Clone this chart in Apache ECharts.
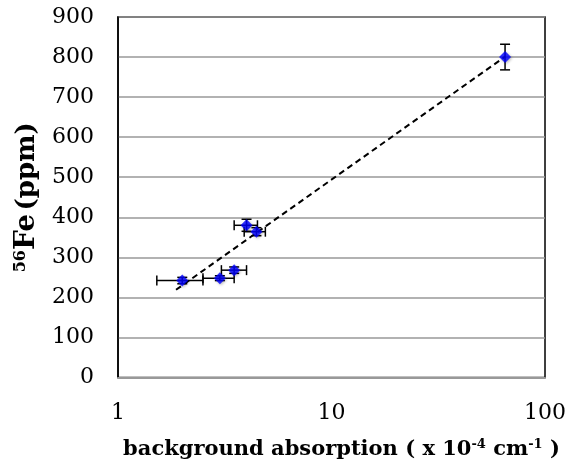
<!DOCTYPE html>
<html><head><meta charset="utf-8">
<script src="https://cdn.jsdelivr.net/npm/echarts@6/dist/echarts.min.js"></script>
<style>html,body{margin:0;padding:0;background:#fff}#c{width:569px;height:465px}</style>
</head><body><div id="c"></div>
<script>
const xVals = [2.0, 3.0, 3.5, 4.0, 4.45, 65];
const yVals = [242, 248, 268, 380, 364, 800];
const xLow = [1.52, 2.5, 3.05, 3.5, 3.9, 65];
const xHigh = [2.5, 3.5, 4.0, 4.5, 4.9, 65];
const yErr = [8, 6, 8, 15, 10, 32];
const trendX = [1.87, 65];
const trendY = [219, 801];
const yTicks = [0, 100, 200, 300, 400, 500, 600, 700, 800, 900];

const pts = xVals.map((x, i) => [x, yVals[i]]);
const errData = xVals.map((x, i) => [x, yVals[i], xLow[i], xHigh[i], yVals[i] - yErr[i], yVals[i] + yErr[i]]);
const trend = trendX.map((x, i) => [x, trendY[i]]);
const font = 'DejaVu Serif';

const chart = echarts.init(document.getElementById('c'));
chart.setOption({
  animation: false,
  grid: {left: 118, right: 23, top: 17, bottom: 87, show: true, borderColor: '#000', borderWidth: 1.5, backgroundColor: '#fff'},
  xAxis: {
    type: 'log', logBase: 10, min: 1, max: 100,
    axisLine: {show: true, lineStyle: {color: '#999', width: 2}},
    axisTick: {show: false}, minorTick: {show: false},
    splitLine: {show: false},
    axisLabel: {fontFamily: font, fontSize: 22, color: '#000', margin: 25},
    name: 'background absorption ( x 10{s|-4} cm{s|-1} )',
    nameLocation: 'middle', nameGap: 61,
    nameTextStyle: {fontFamily: font, fontSize: 21, fontWeight: 'bold', color: '#000', padding: [0, 0, 0, 20],
      rich: {s: {fontFamily: font, fontSize: 13, fontWeight: 'bold', color: '#000', verticalAlign: 'top', padding: [0,0,9,0]}}}
  },
  yAxis: {
    type: 'value', min: 0, max: 900, interval: 100,
    axisLine: {show: true, lineStyle: {color: '#000', width: 1.5}},
    axisTick: {show: false},
    splitLine: {show: true, lineStyle: {color: '#999', width: 1.5}},
    axisLabel: {fontFamily: font, fontSize: 22, color: '#000', margin: 24,
      formatter: v => yTicks.includes(v) ? String(v) : ''},
    name: '{s|56}{f|Fe} {p|(ppm)}',
    nameLocation: 'middle', nameRotate: 90, nameGap: 74,
    nameTextStyle: {color: '#000',
      rich: {
        s: {fontFamily: font, fontSize: 16, fontWeight: 'bold', color: '#000', verticalAlign: 'top', padding: [0,0,11,0]},
        f: {fontFamily: font, fontSize: 28, fontWeight: 'bold', color: '#000'},
        p: {fontFamily: font, fontSize: 26, fontWeight: 'bold', color: '#000'}
      }}
  },
  series: [
    {
      type: 'line', data: trend, symbol: 'none', z: 2,
      lineStyle: {color: '#000', width: 2, type: [6, 4]}
    },
    {
      type: 'custom', z: 3,
      renderItem: function (params, api) {
        const c = api.coord([api.value(0), api.value(1)]);
        const l = api.coord([api.value(2), api.value(1)]);
        const r = api.coord([api.value(3), api.value(1)]);
        const b = api.coord([api.value(0), api.value(4)]);
        const t = api.coord([api.value(0), api.value(5)]);
        const cap = 5;
        const st = {stroke: '#000', lineWidth: 1.5};
        const ch = [];
        if (r[0] - l[0] > 1) {
          ch.push({type: 'line', shape: {x1: l[0], y1: c[1], x2: r[0], y2: c[1]}, style: st});
          ch.push({type: 'line', shape: {x1: l[0], y1: c[1] - cap, x2: l[0], y2: c[1] + cap}, style: st});
          ch.push({type: 'line', shape: {x1: r[0], y1: c[1] - cap, x2: r[0], y2: c[1] + cap}, style: st});
        }
        ch.push({type: 'line', shape: {x1: c[0], y1: b[1], x2: c[0], y2: t[1]}, style: st});
        ch.push({type: 'line', shape: {x1: c[0] - cap, y1: b[1], x2: c[0] + cap, y2: b[1]}, style: st});
        ch.push({type: 'line', shape: {x1: c[0] - cap, y1: t[1], x2: c[0] + cap, y2: t[1]}, style: st});
        return {type: 'group', children: ch};
      },
      data: errData
    },
    {
      type: 'scatter', data: pts, symbol: 'diamond', symbolSize: 12, z: 4,
      itemStyle: {color: '#0000ff', shadowColor: 'rgba(0,0,0,0.35)', shadowBlur: 3, shadowOffsetX: 1, shadowOffsetY: 1}
    }
  ]
});
</script></body></html>
